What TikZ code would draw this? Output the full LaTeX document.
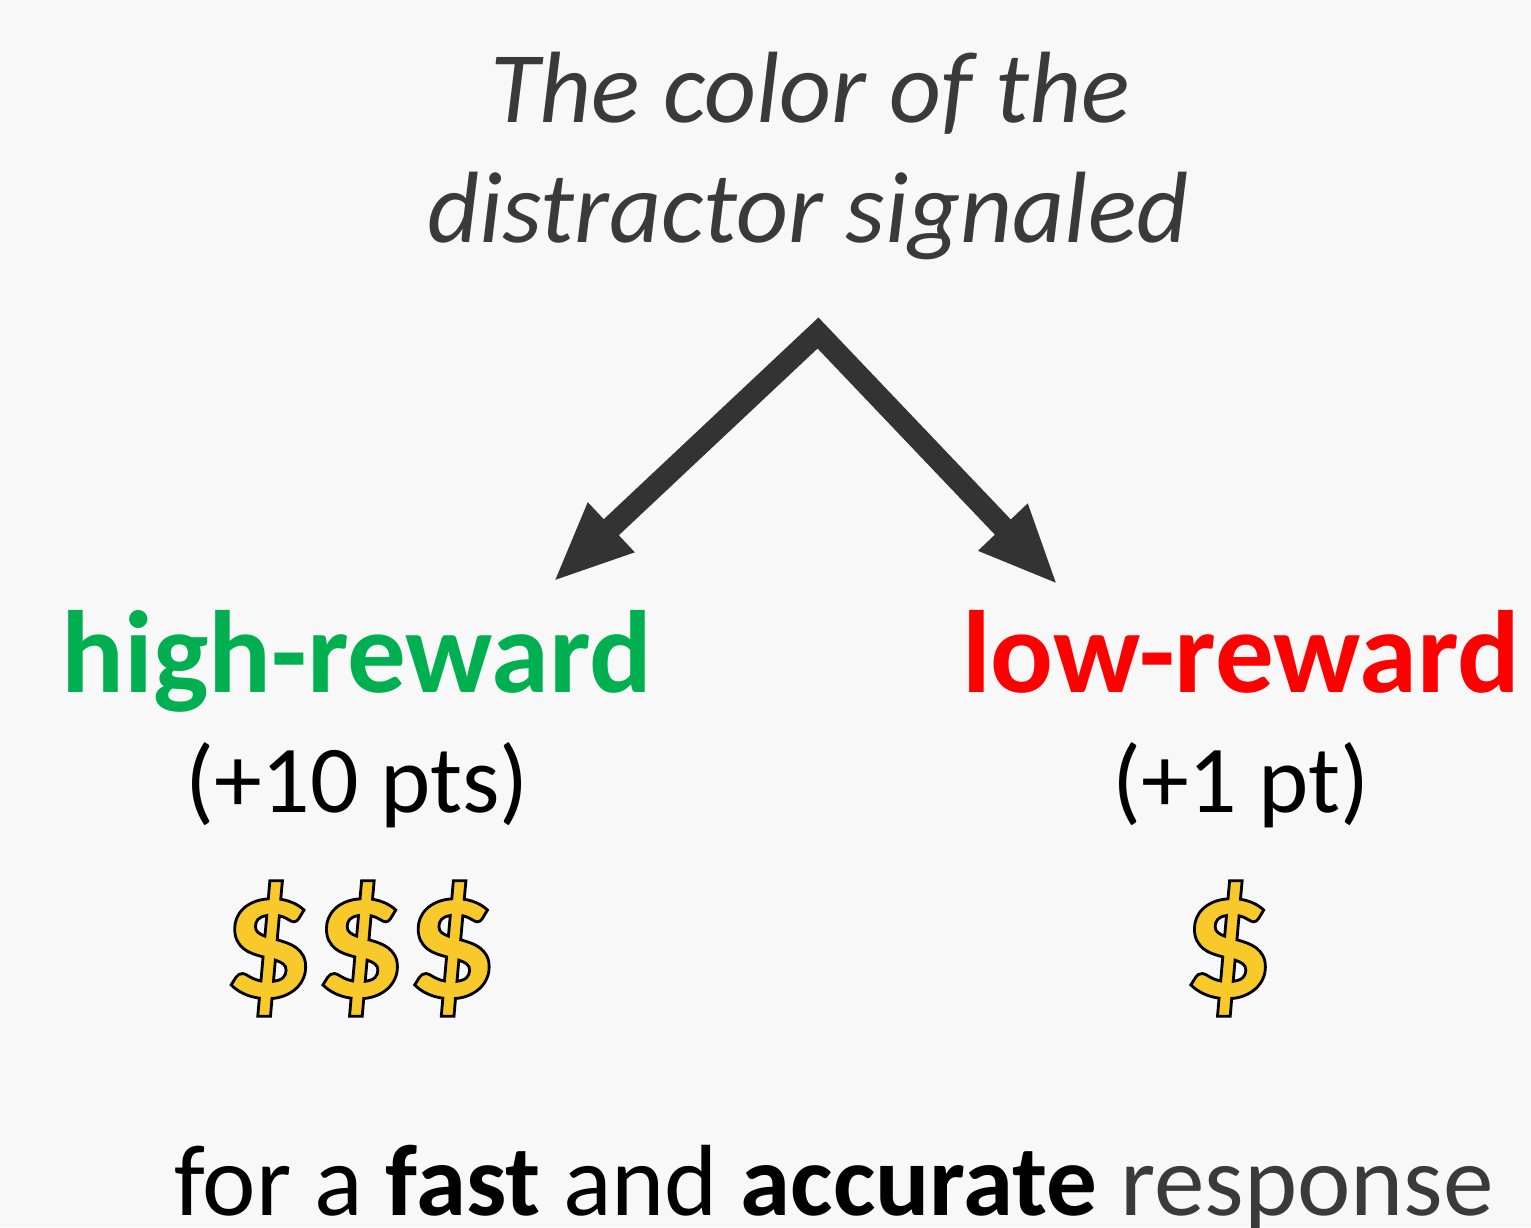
\documentclass[tikz,border=0pt]{standalone}
\usepackage{fontspec}
\setmainfont{Carlito}
\usetikzlibrary{arrows.meta}
\definecolor{bgGray}{HTML}{F8F8F8}
\definecolor{titleGray}{HTML}{3A3A3A}
\definecolor{arrowGray}{HTML}{333333}
\definecolor{hiGreen}{HTML}{00B050}
\definecolor{loRed}{HTML}{FF0000}
\definecolor{dollarGold}{HTML}{F8C92B}
\definecolor{respGray}{HTML}{3A3A3A}
% outlined glyphs: fill with the text colour, stroke in black
\newcommand{\outlined}[1]{\special{pdf:literal direct 2 Tr 0 0 0 RG 1.6 w}#1\special{pdf:literal direct 0 Tr}}
\begin{document}
\begin{tikzpicture}[x=0.02cm, y=-0.02cm,
	>={Triangle[length=1.6cm, width=1.24cm]},
	title/.style={text=titleGray, font=\fontsize{57.7}{68}\selectfont\itshape, anchor=base},
	reward/.style={font=\fontsize{66.6}{70}\selectfont\bfseries, anchor=base},
	points/.style={font=\fontsize{54.5}{60}\selectfont, anchor=base},
	money/.style={text=dollarGold, font=\fontsize{103}{110}\selectfont\bfseries, anchor=base},
	branch/.style={draw=arrowGray, line width=0.44cm, line join=miter, <->}]
	\useasboundingbox[fill=bgGray] (0,0) rectangle (1531,1227);

	\node (title) [title] at (810,122) {The color of the};
	\node (titlesub) [title] at (808,242) {distractor signaled};

	\coordinate (apex) at (818,333);
	\coordinate (highend) at (553,582);
	\coordinate (lowend) at (1058,585);

	\node (high) [reward, text=hiGreen] at (357,692) {high-reward};
	\node (low) [reward, text=loRed] at (1241,692) {low-reward};
	\node (highpts) [points] at (357,812) {(+10 pts)};
	\node (lowpts) [points] at (1241,812) {(+1 pt)};
	\node (highcash) [money] at (360,997) {\outlined{\$\$\$}};
	\node (lowcash) [money] at (1228,997) {\outlined{\$}};

	\node (response) [font=\fontsize{57.6}{62}\selectfont, anchor=base] at (834,1215) {for a \textbf{fast} and \textbf{accurate} {\color{respGray}response}};

	\draw[branch] (highend) -- (apex) -- (lowend);
\end{tikzpicture}
\end{document}
